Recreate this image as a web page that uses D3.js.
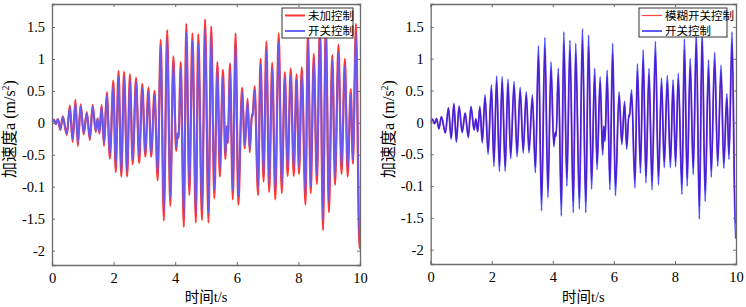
<!DOCTYPE html>
<html>
<head>
<meta charset="utf-8">
<script src="https://cdn.jsdelivr.net/npm/d3@7"></script>
<style>
  body { margin: 0; background: #fff; }
  svg { display: block; }
</style>
</head>
<body>
<div id="chart"></div>
<script>
// time of each local extremum (s)
var times = [0, 0.06, 0.13, 0.19, 0.27, 0.35, 0.48, 0.58, 0.67, 0.76, 0.84, 0.93, 1.03, 1.13, 1.23, 1.32,
  1.42, 1.48, 1.54, 1.61, 1.69, 1.78, 1.88, 1.99, 2.07, 2.16, 2.25, 2.34, 2.44, 2.53, 2.62, 2.73,
  2.83, 2.93, 3.03, 3.13, 3.22, 3.33, 3.43, 3.53, 3.63, 3.74, 3.84, 3.94, 4.03, 4.08, 4.11, 4.18,
  4.28, 4.36, 4.46, 4.56, 4.67, 4.75, 4.87, 4.97, 5.08, 5.17, 5.27, 5.37, 5.45, 5.55, 5.63, 5.67,
  5.71, 5.78, 5.87, 5.96, 6.05, 6.17, 6.26, 6.35, 6.42, 6.49, 6.51, 6.58, 6.69, 6.77, 6.87, 6.96,
  7.05, 7.15, 7.25, 7.36, 7.46, 7.56, 7.65, 7.75, 7.85, 7.94, 8.02, 8.11, 8.23, 8.31, 8.40, 8.50,
  8.60, 8.70, 8.80, 8.89, 8.99, 9.10, 9.19, 9.30, 9.40, 9.51, 9.60, 9.70, 9.77, 9.87, 9.98, 10.0];

// 未加控制
var noControl = [0.00, 0.05, -0.02, 0.06, -0.11, 0.10, -0.19, 0.27, -0.30, 0.36, -0.36, 0.29, -0.18, 0.17, -0.27, 0.28,
  -0.14, 0.07, -0.17, 0.28, -0.36, 0.48, -0.56, 0.66, -0.77, 0.81, -0.84, 0.80, -0.84, 0.76, -0.65, 0.71,
  -0.63, 0.61, -0.53, 0.55, -0.53, 0.50, -0.90, 1.30, -1.53, 1.45, -1.30, 1.04, -0.44, -0.17, -0.24, 0.95,
  -1.63, 1.55, -1.13, 1.40, -1.56, 1.39, -1.52, 1.62, -1.56, 1.51, -1.18, 0.95, -0.84, 0.83, -0.57, -0.05,
  -0.32, 0.93, -1.20, 1.40, -1.28, 0.55, -0.40, 0.38, -0.46, 0.14, 0.10, 0.57, -1.13, 1.00, -0.92, 1.27,
  -1.08, 0.94, -1.20, 1.40, -1.10, 0.79, -0.83, 0.85, -0.83, 0.76, -0.80, 0.87, -1.28, 1.43, -1.10, 1.08,
  -0.96, 1.55, -1.68, 1.60, -1.40, 1.06, -0.97, 1.22, -0.80, 1.00, -0.84, 0.53, -0.64, 1.55, -1.96, -1.90];

// 开关控制
var switchControl = [0.00, 0.05, -0.02, 0.06, -0.10, 0.09, -0.17, 0.23, -0.26, 0.30, -0.31, 0.26, -0.16, 0.15, -0.24, 0.25,
  -0.12, 0.06, -0.15, 0.25, -0.32, 0.43, -0.50, 0.59, -0.69, 0.73, -0.77, 0.72, -0.77, 0.68, -0.57, 0.64,
  -0.54, 0.55, -0.48, 0.48, -0.48, 0.43, -0.79, 1.20, -1.39, 1.33, -1.18, 0.95, -0.38, -0.16, -0.22, 0.85,
  -1.47, 1.42, -1.00, 1.29, -1.42, 1.24, -1.36, 1.47, -1.42, 1.37, -1.05, 0.85, -0.74, 0.72, -0.51, -0.06,
  -0.30, 0.82, -1.06, 1.24, -1.15, 0.48, -0.35, 0.33, -0.42, 0.12, 0.09, 0.51, -1.03, 0.92, -0.80, 1.14,
  -0.95, 0.85, -1.06, 1.27, -0.98, 0.70, -0.71, 0.74, -0.71, 0.67, -0.70, 0.77, -1.13, 1.31, -1.00, 1.00,
  -0.82, 1.43, -1.52, 1.46, -1.24, 0.98, -0.86, 1.10, -0.69, 0.90, -0.72, 0.45, -0.58, 1.42, -1.82, -1.76];

// 模糊开关控制
var fuzzyControl = [0.00, 0.05, -0.02, 0.06, -0.10, 0.09, -0.16, 0.22, -0.24, 0.28, -0.29, 0.24, -0.15, 0.14, -0.22, 0.23,
  -0.11, 0.05, -0.14, 0.23, -0.29, 0.39, -0.45, 0.53, -0.62, 0.65, -0.69, 0.64, -0.69, 0.61, -0.51, 0.57,
  -0.48, 0.49, -0.43, 0.43, -0.43, 0.38, -0.70, 1.05, -1.22, 1.16, -1.03, 0.83, -0.34, -0.15, -0.20, 0.74,
  -1.28, 1.24, -0.87, 1.12, -1.24, 1.08, -1.18, 1.28, -1.24, 1.19, -0.91, 0.74, -0.64, 0.63, -0.45, -0.06,
  -0.27, 0.71, -0.92, 1.08, -1.00, 0.42, -0.31, 0.29, -0.37, 0.10, 0.08, 0.45, -0.90, 0.80, -0.70, 0.99,
  -0.83, 0.74, -0.92, 1.10, -0.85, 0.61, -0.62, 0.64, -0.62, 0.58, -0.61, 0.67, -0.98, 1.14, -0.87, 0.87,
  -0.71, 1.24, -1.32, 1.27, -1.08, 0.85, -0.75, 0.96, -0.60, 0.78, -0.63, 0.39, -0.50, 1.24, -1.58, -1.53];

var xTicks = [0, 2, 4, 6, 8, 10];
var yTicks = [-2, -1.5, -1, -0.5, 0, 0.5, 1, 1.5];
var yTickLabels = ["-2", "-1.5", "-0.1", "-0.5", "0", "0.5", "1", "1.5"];

var serif = '"Liberation Serif", "Times New Roman", serif';
var cjk = '"Liberation Serif", "Noto Sans CJK SC", serif';

var svg = d3.select("#chart").append("svg")
    .attr("width", 746)
    .attr("height", 307);

function drawPanel(id, box, series, legendBox) {
    var g = svg.append("g");

    var x = d3.scaleLinear().domain([0, 10]).range([box.left, box.right]);
    var y = d3.scaleLinear().domain([-2.225, 1.86]).range([box.bottom, box.top]);

    g.append("defs").append("clipPath")
        .attr("id", "clip-" + id)
        .append("rect")
        .attr("x", box.left).attr("y", box.top)
        .attr("width", box.right - box.left)
        .attr("height", box.bottom - box.top);

    var line = d3.line()
        .curve(d3.curveMonotoneX)
        .x(function(d) { return x(d[0]); })
        .y(function(d) { return y(d[1]); });

    var lines = g.append("g").attr("clip-path", "url(#clip-" + id + ")");
    series.forEach(function(s) {
        lines.append("path")
            .datum(times.map(function(t, i) { return [t, s.values[i]]; }))
            .attr("fill", "none")
            .attr("stroke", s.color)
            .attr("stroke-opacity", s.opacity)
            .attr("stroke-width", s.width)
            .attr("stroke-linejoin", "round")
            .attr("d", line);
    });

    // axes, MATLAB style: ticks inside, box on
    var axisColor = "#6e6e6e";
    var xb = d3.axisBottom(x).tickValues(xTicks).tickSize(-3).tickPadding(8).tickFormat(d3.format("d"));
    var xt = d3.axisTop(x).tickValues(xTicks).tickSize(-3).tickFormat("");
    var yl = d3.axisLeft(y).tickValues(yTicks).tickSize(-3).tickPadding(7)
        .tickFormat(function(d, i) { return yTickLabels[i]; });
    var yr = d3.axisRight(y).tickValues(yTicks).tickSize(-3).tickFormat("");

    [[xb, "translate(0," + box.bottom + ")"], [xt, "translate(0," + box.top + ")"],
     [yl, "translate(" + box.left + ",0)"], [yr, "translate(" + box.right + ",0)"]].forEach(function(a) {
        var ax = g.append("g").attr("transform", a[1]).call(a[0])
            .attr("font-family", serif).attr("font-size", 14.5);
        ax.select(".domain").attr("stroke", axisColor).attr("stroke-width", 1.3);
        ax.selectAll(".tick line").attr("stroke", axisColor);
        ax.selectAll(".tick text").attr("fill", "#000").style("font-family", serif);
    });

    // axis titles
    g.append("text")
        .attr("x", (box.left + box.right) / 2)
        .attr("y", 302)
        .attr("text-anchor", "middle")
        .style("font-family", cjk)
        .style("font-size", "14.5px")
        .text("时间t/s");

    var yt = g.append("text")
        .attr("transform", "translate(" + (box.left - 37) + "," + 129 + ") rotate(-90)")
        .attr("text-anchor", "middle")
        .style("font-family", cjk)
        .style("font-size", "16px");
    yt.append("tspan").text("加速度a (m/s");
    yt.append("tspan").style("font-size", "10px").attr("dy", -6).text("2");
    yt.append("tspan").attr("dy", 6).text(")");

    // legend
    var lg = g.append("g");
    lg.append("rect")
        .attr("x", legendBox.x).attr("y", legendBox.y)
        .attr("width", legendBox.w).attr("height", legendBox.h)
        .attr("fill", "#fff")
        .attr("stroke", "#333")
        .attr("stroke-width", 1);
    series.forEach(function(s, i) {
        var cy = legendBox.y + 7.5 + i * 15.5;
        lg.append("line")
            .attr("x1", legendBox.x + 3).attr("x2", legendBox.x + legendBox.lineLen + 3)
            .attr("y1", cy).attr("y2", cy)
            .attr("stroke", s.color)
            .attr("stroke-opacity", s.opacity)
            .attr("stroke-width", s.legendWidth);
        lg.append("text")
            .attr("x", legendBox.x + legendBox.lineLen + 6)
            .attr("y", cy + 4)
            .style("font-family", '"Noto Sans CJK SC", sans-serif')
            .style("font-size", "11.5px")
            .text(s.name);
    });
}

drawPanel("left", { left: 52, right: 360, top: 4, bottom: 265 }, [
    { name: "未加控制", values: noControl, color: "#ff2020", opacity: 0.9, width: 2.2, legendWidth: 2 },
    { name: "开关控制", values: switchControl, color: "#5c5cff", opacity: 0.92, width: 1.9, legendWidth: 2 }
], { x: 282, y: 8, w: 71, h: 30, lineLen: 20 });

drawPanel("right", { left: 430.7, right: 736, top: 4, bottom: 264 }, [
    { name: "模糊开关控制", values: fuzzyControl, color: "#ff3030", opacity: 0.9, width: 1.4, legendWidth: 1.2 },
    { name: "开关控制", values: switchControl, color: "#1010ff", opacity: 0.75, width: 1.8, legendWidth: 1.8 }
], { x: 639, y: 8, w: 88, h: 29, lineLen: 20 });
</script>
</body>
</html>
